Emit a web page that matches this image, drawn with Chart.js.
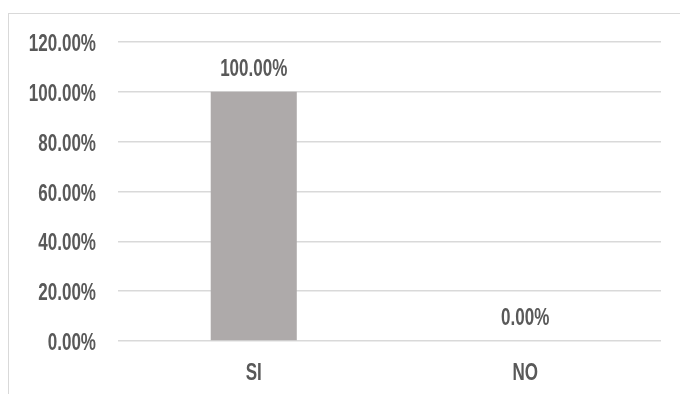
<!DOCTYPE html>
<html>
<head>
<meta charset="utf-8">
<script src="https://cdn.jsdelivr.net/npm/chart.js@4"></script>
<style>
  html, body { margin: 0; padding: 0; background: #fff; overflow: hidden; }
  #wrap { position: relative; width: 680px; height: 394px; }
  #frame { position: absolute; left: 8px; top: 13px; width: 700px; height: 420px; border: 1px solid #d9d9d9; box-sizing: border-box; }
  canvas { position: absolute; left: 0; top: 0; }
</style>
</head>
<body>
<div id="wrap">
  <div id="frame"></div>
  <canvas id="chart" width="680" height="394"></canvas>
</div>
<script>
  const categories = ["SI", "NO"];
  const values = [1.0, 0.0];
  const yTicks = [0, 0.2, 0.4, 0.6, 0.8, 1.0, 1.2];

  const FONT = "bold 23px 'Liberation Sans', Arial, sans-serif";
  const TEXT = "#595959";
  const SQUEEZE = 0.74;   // narrow the glyphs horizontally
  const fmtPct = (x) => (x * 100).toFixed(2) + "%";

  function narrowText(ctx, str, x, y, align) {
    ctx.save();
    ctx.font = FONT;
    ctx.fillStyle = TEXT;
    ctx.textAlign = align;
    ctx.textBaseline = "alphabetic";
    ctx.translate(x, y);
    ctx.scale(SQUEEZE, 1);
    ctx.fillText(str, 0, 0);
    ctx.restore();
  }

  // axis labels + value labels, placed from the chart's own scales
  const textLayer = {
    id: "textLayer",
    afterDraw(chart) {
      const ctx = chart.ctx;
      const xs = chart.scales.x, ys = chart.scales.y;
      ys.ticks.forEach((t, i) => {
        narrowText(ctx, fmtPct(t.value), ys.right - 22, ys.getPixelForTick(i) + 9, "right");
      });
      categories.forEach((c, i) => {
        narrowText(ctx, c, xs.getPixelForTick(i), ys.bottom + 39, "center");
      });
      chart.getDatasetMeta(0).data.forEach((bar, i) => {
        narrowText(ctx, fmtPct(values[i]), bar.x, bar.y - 16, "center");
      });
    }
  };

  new Chart(document.getElementById("chart").getContext("2d"), {
    type: "bar",
    data: {
      labels: categories,
      datasets: [{
        data: values,
        backgroundColor: "#aeaaaa",
        barPercentage: 0.317,
        categoryPercentage: 1.0
      }]
    },
    options: {
      responsive: false,
      animation: false,
      layout: { padding: { top: 42, right: 19, bottom: 0, left: 0 } },
      plugins: { legend: { display: false }, tooltip: { enabled: false } },
      scales: {
        x: {
          grid: { display: false },
          border: { display: false },
          ticks: { display: false },
          afterFit: (s) => { s.height = 53; }
        },
        y: {
          min: 0,
          max: 1.2,
          afterBuildTicks: (s) => { s.ticks = yTicks.map(v => ({ value: v })); },
          grid: { color: "#d9d9d9", lineWidth: 1.5, drawTicks: false },
          border: { display: false },
          ticks: { display: false },
          afterFit: (s) => { s.width = 118; }
        }
      }
    },
    plugins: [textLayer]
  });
</script>
</body>
</html>
